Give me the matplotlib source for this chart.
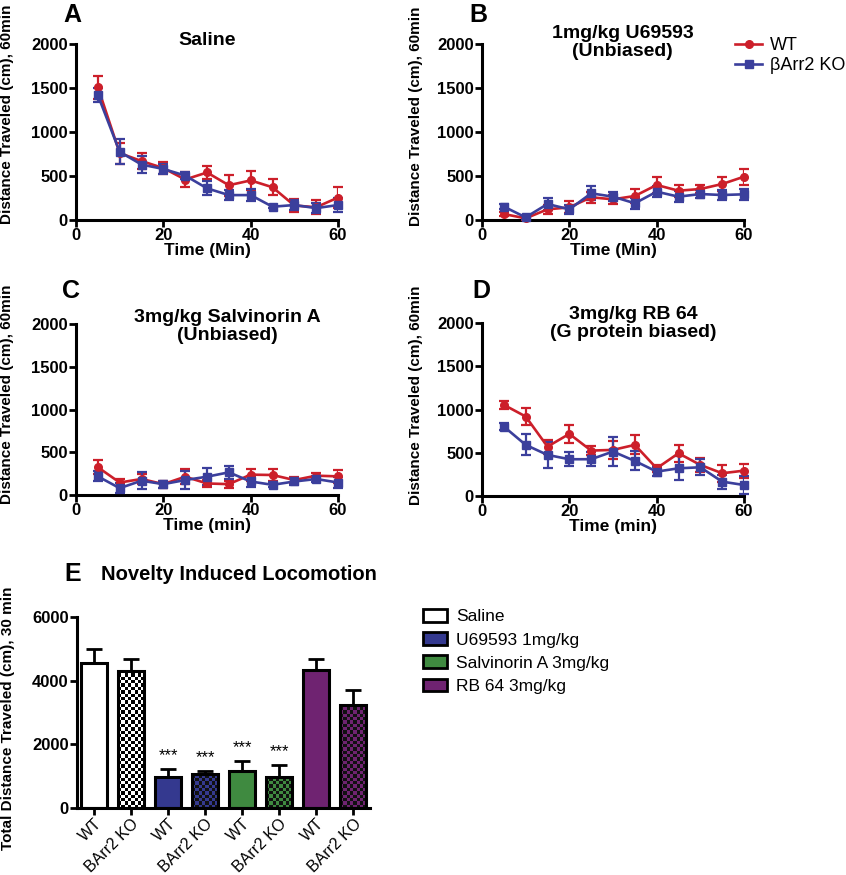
import numpy as np
import matplotlib
matplotlib.use('Agg')
import matplotlib.pyplot as plt
from matplotlib.colors import ListedColormap
from matplotlib.patches import Rectangle, Patch
from matplotlib.lines import Line2D

plt.rcParams['font.family'] = ['Liberation Sans', 'DejaVu Sans']
plt.rcParams['font.weight'] = 'bold'

# time points (min)
time = [5, 10, 15, 20, 25, 30, 35, 40, 45, 50, 55, 60]

# A - saline
sal_wt = [1510, 760, 670, 590, 460, 540, 395, 450, 372, 165, 145, 255]
sal_wt_err = [130, 120, 90, 70, 80, 70, 120, 110, 90, 70, 80, 120]
sal_ko = [1420, 775, 630, 580, 505, 360, 283, 283, 151, 170, 135, 170]
sal_ko_err = [80, 140, 100, 60, 40, 80, 60, 70, 20, 60, 60, 80]

# B - U69593
u69_wt = [68, 19, 121, 144, 258, 235, 273, 398, 333, 352, 409, 492]
u69_wt_err = [20, 15, 50, 70, 60, 50, 80, 90, 70, 50, 80, 90]
u69_ko = [152, 30, 182, 121, 303, 265, 190, 322, 265, 295, 284, 292]
u69_ko_err = [30, 20, 70, 50, 80, 50, 60, 60, 60, 50, 60, 60]

# C - Salvinorin A
salv_wt = [325, 146, 187, 127, 214, 135, 127, 238, 234, 175, 226, 218]
salv_wt_err = [80, 40, 60, 40, 90, 40, 40, 70, 70, 40, 30, 80]
salv_ko = [218, 80, 167, 127, 175, 214, 265, 158, 119, 158, 187, 146]
salv_ko_err = [60, 60, 100, 40, 100, 100, 80, 60, 30, 40, 40, 60]

# D - RB 64
rb_wt = [1054, 919, 571, 718, 525, 533, 591, 320, 494, 359, 263, 293]
rb_wt_err = [50, 100, 80, 100, 50, 100, 110, 40, 100, 80, 100, 80]
rb_ko = [803, 591, 475, 425, 425, 514, 405, 282, 320, 332, 166, 127]
rb_ko_err = [40, 120, 150, 80, 80, 170, 110, 50, 140, 90, 80, 100]

# E - novelty induced locomotion
bar_labels = ['WT', 'BArr2 KO', 'WT', 'BArr2 KO', 'WT', 'BArr2 KO', 'WT', 'BArr2 KO']
bar_vals = [4555, 4304, 963, 1068, 1173, 984, 4325, 3236]
bar_err = [430, 366, 262, 94, 303, 377, 356, 481]
bar_sig = ['', '', '***', '***', '***', '***', '', '']
groups = ['Saline', 'U69593 1mg/kg', 'Salvinorin A 3mg/kg', 'RB 64 3mg/kg']
group_cols = ['#ffffff', '#34398f', '#3f8a40', '#6f2371']

RED = '#cc1f2a'
BLUE = '#3b3f9c'

fig = plt.figure(figsize=(8.46, 8.75), dpi=100)
W, H = 846.0, 875.0


def add_ax(x0, x1, ytop, ybot):
    return fig.add_axes([x0 / W, 1 - ybot / H, (x1 - x0) / W, (ybot - ytop) / H])


def style(ax):
    for s in ['top', 'right']:
        ax.spines[s].set_visible(False)
    for s in ['left', 'bottom']:
        ax.spines[s].set_linewidth(2.2)
    ax.tick_params(width=2, length=5, labelsize=12, pad=1)
    for lab in ax.get_xticklabels() + ax.get_yticklabels():
        lab.set_fontweight('bold')


def line_panel(ax, wt, wte, ko, koe, xlab):
    ax.errorbar(time, wt, yerr=wte, color=RED, marker='o', ms=5.5, lw=1.9,
                capsize=3.5, elinewidth=1.6, capthick=1.6, zorder=3)
    ax.errorbar(time, ko, yerr=koe, color=BLUE, marker='s', ms=5.5, lw=1.9,
                capsize=3.5, elinewidth=1.6, capthick=1.6, zorder=3)
    ax.set_xlim(0, 60)
    ax.set_ylim(0, 2000)
    ax.set_xticks([0, 20, 40, 60])
    ax.set_yticks([0, 500, 1000, 1500, 2000])
    ax.set_xlabel(xlab, fontsize=12.5, fontweight='bold', labelpad=0)
    ax.set_ylabel('Distance Traveled (cm), 60min', fontsize=11, fontweight='bold')
    style(ax)
    for line in ax.lines:
        line.set_clip_on(False)


axA = add_ax(76, 338, 44, 220)
line_panel(axA, sal_wt, sal_wt_err, sal_ko, sal_ko_err, 'Time (Min)')
axA.yaxis.set_label_coords(-0.235, 0.6)
axA.text(0.5, 1.02, 'Saline', transform=axA.transAxes, ha='center', va='center',
         fontsize=14, fontweight='bold')
fig.text(72 / W, 1 - 15 / H, 'A', fontsize=18, fontweight='bold', ha='center', va='center')

axB = add_ax(482, 744, 44, 220)
line_panel(axB, u69_wt, u69_wt_err, u69_ko, u69_ko_err, 'Time (Min)')
axB.yaxis.set_label_coords(-0.225, 0.59)
axB.text(0.536, 1.11, '1mg/kg U69593\n(Unbiased)', transform=axB.transAxes, ha='center',
         va='top', fontsize=14, fontweight='bold', linespacing=1.1)
fig.text(478 / W, 1 - 15 / H, 'B', fontsize=18, fontweight='bold', ha='center', va='center')
handles = [Line2D([], [], color=RED, marker='o', ms=5.5, lw=1.9),
           Line2D([], [], color=BLUE, marker='s', ms=5.5, lw=1.9)]
fig.legend(handles, ['WT', 'βArr2 KO'], loc='upper left', bbox_to_anchor=(728 / W, 1 - 30 / H),
           frameon=False, prop={'size': 13, 'weight': 'normal'}, handlelength=1.5,
           handletextpad=0.4, labelspacing=0.15, borderaxespad=0)

axC = add_ax(76, 338, 324, 495)
line_panel(axC, salv_wt, salv_wt_err, salv_ko, salv_ko_err, 'Time (min)')
axC.yaxis.set_label_coords(-0.235, 0.59)
axC.text(0.576, 1.09, '3mg/kg Salvinorin A\n(Unbiased)', transform=axC.transAxes, ha='center',
         va='top', fontsize=14, fontweight='bold', linespacing=1.1)
fig.text(71 / W, 1 - 291 / H, 'C', fontsize=18, fontweight='bold', ha='center', va='center')

axD = add_ax(482, 744, 323, 496)
line_panel(axD, rb_wt, rb_wt_err, rb_ko, rb_ko_err, 'Time (min)')
axD.yaxis.set_label_coords(-0.225, 0.58)
axD.text(0.576, 1.1, '3mg/kg RB 64\n(G protein biased)', transform=axD.transAxes, ha='center',
         va='top', fontsize=14, fontweight='bold', linespacing=1.1)
fig.text(481 / W, 1 - 291 / H, 'D', fontsize=18, fontweight='bold', ha='center', va='center')

# panel E
axE = add_ax(77, 370, 617, 808)
x = np.arange(len(bar_vals))
bw = 0.7
cell_x, cell_y = 0.09, 105.0
for i in x:
    g = i // 2
    col = group_cols[g]
    left = i - bw / 2
    if i % 2 == 0:
        axE.bar(i, bar_vals[i], width=bw, color=col, edgecolor='black', lw=2.2, zorder=2)
    else:
        rect = Rectangle((left, 0), bw, bar_vals[i], facecolor='none',
                         edgecolor='black', lw=2.2, zorder=3)
        axE.add_patch(rect)
        nx = int(np.ceil(bw / cell_x))
        ny = int(np.ceil(bar_vals[i] / cell_y))
        board = (np.add.outer(np.arange(ny), np.arange(nx)) % 2).astype(float)
        dark = '#111111' if g > 0 else '#000000'
        im = axE.imshow(board, extent=(left, left + nx * cell_x, 0, ny * cell_y), origin='lower',
                        cmap=ListedColormap([col, dark]), interpolation='nearest',
                        aspect='auto', zorder=2)
        im.set_clip_path(rect)
    axE.errorbar(i, bar_vals[i], yerr=[[0], [bar_err[i]]], color='black', lw=0,
                 elinewidth=2, capsize=6, capthick=2, zorder=1)
    if bar_sig[i]:
        axE.text(i, bar_vals[i] + bar_err[i] + 180, bar_sig[i], ha='center', va='bottom',
                 fontsize=12, fontweight='normal')
axE.set_xlim(-0.46, 7.45)
axE.set_ylim(0, 6000)
axE.set_yticks([0, 2000, 4000, 6000])
axE.set_xticks(x)
axE.set_xticklabels(bar_labels, rotation=45, ha='right', rotation_mode='anchor')
style(axE)
for lab in axE.get_xticklabels():
    lab.set_fontsize(11.5)
    lab.set_fontweight('normal')
axE.set_ylabel('Total Distance Traveled (cm), 30 min', fontsize=11, fontweight='bold')
axE.yaxis.set_label_coords(-0.21, 0.47)
axE.text(0.553, 1.225, 'Novelty Induced Locomotion', transform=axE.transAxes, ha='center',
         va='center', fontsize=14.5, fontweight='bold')
fig.text(73 / W, 1 - 574 / H, 'E', fontsize=18, fontweight='bold', ha='center', va='center')

leg_handles = [Patch(facecolor=c, edgecolor='black', lw=2) for c in group_cols]
fig.legend(leg_handles, groups, loc='upper left', bbox_to_anchor=(416 / W, 1 - 602 / H),
           frameon=False, prop={'size': 12.5, 'weight': 'normal'}, handlelength=1.4,
           handleheight=0.75, handletextpad=0.5, labelspacing=0.45, borderaxespad=0)

fig.savefig('out.png', dpi=100)
